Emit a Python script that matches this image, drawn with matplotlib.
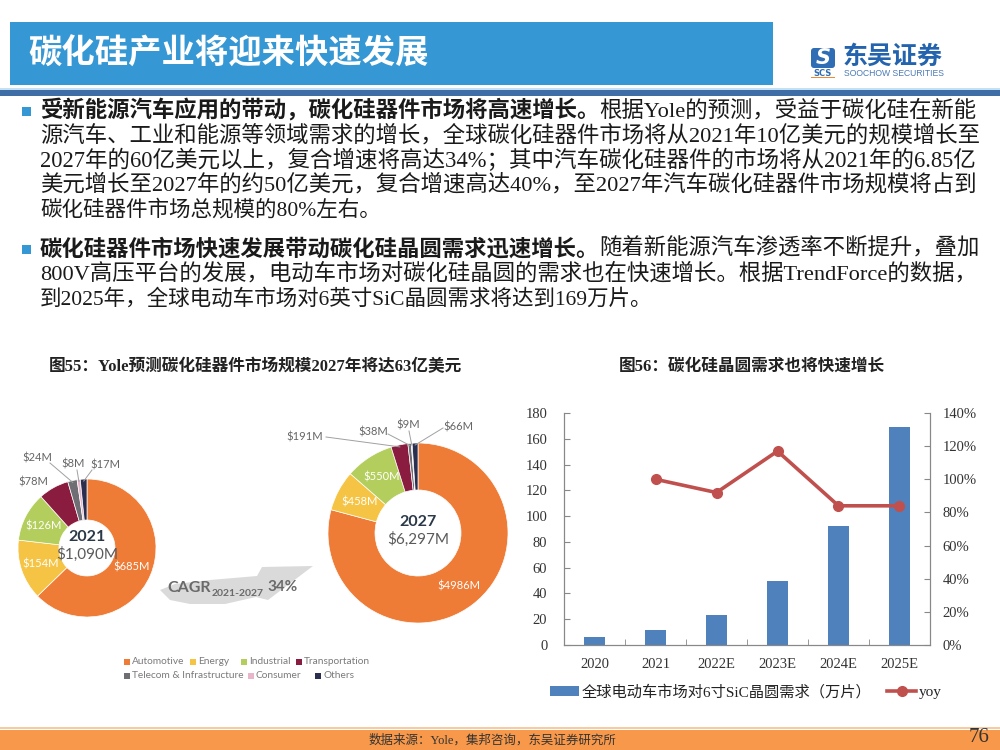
import numpy as np
import matplotlib
matplotlib.use('Agg')
import matplotlib.pyplot as plt
from matplotlib.patches import Rectangle, Polygon, FancyBboxPatch
from matplotlib.lines import Line2D

# ---------------- data ----------------
years = ['2020', '2021', '2022E', '2023E', '2024E', '2025E']
wafer_demand = [6, 12, 23, 50, 92, 169]            # 万片
yoy_pct = [np.nan, 100, 92, 117, 84, 84]            # %
bar_ticks = [0, 20, 40, 60, 80, 100, 120, 140, 160, 180]
yoy_ticks = [0, 20, 40, 60, 80, 100, 120, 140]

segments = ['Automotive', 'Energy', 'Industrial', 'Transportation',
            'Telecom & Infrastructure', 'Consumer', 'Others']
market_2021 = [685, 154, 126, 78, 24, 8, 17]       # $M
market_2027 = [4986, 458, 550, 191, 38, 9, 66]     # $M
total_2021 = '$1,090M'
total_2027 = '$6,297M'
cagr_value = '34%'

SEG_COLORS = ['#EE7B36', '#F6C445', '#B3CE5C', '#8A1C3F',
              '#6F6E74', '#E8B5CA', '#2A2E4F']

CJK = 'Noto Sans CJK SC'
MIX = ['Liberation Serif', CJK]
HUM = ['Lato', 'DejaVu Sans']
plt.rcParams['font.family'] = MIX

fig = plt.figure(figsize=(10, 7.5), dpi=100)
fig.patch.set_facecolor('white')
ax = fig.add_axes([0, 0, 1, 1])
ax.set_xlim(0, 1000)
ax.set_ylim(0, 750)
ax.axis('off')


def px(y):
    return 750 - y


# ---------------- header ----------------
ax.add_patch(Rectangle((10, px(85)), 763, 63, color='#3597D3', lw=0))
ax.text(28, px(54), '碳化硅产业将迎来快速发展', color='white', fontsize=24,
        fontweight='bold', family=[CJK], va='center', ha='left')
ax.add_patch(Rectangle((0, px(90)), 1000, 2.5, color='#C4E0F3', lw=0))
ax.add_patch(Rectangle((0, px(96)), 1000, 6, color='#3F6EA7', lw=0))

# logo
ax.add_patch(FancyBboxPatch((811, px(68)), 24, 20, boxstyle='round,pad=0,rounding_size=3',
                            color='#2F6DB5', lw=0))
ax.text(823, px(58), 'S', color='white', fontsize=15, fontweight='bold',
        fontstyle='italic', family=['DejaVu Sans'], ha='center', va='center')
ax.text(823, px(73), 'SCS', color='#2F6DB5', fontsize=6, fontweight='bold',
        family=['DejaVu Sans'], ha='center', va='center')
ax.add_patch(Rectangle((811, px(78)), 24, 1.5, color='#F08A30', lw=0))
ax.text(843, px(57), '东吴证券', color='#2464AE', fontsize=18, fontweight='bold',
        family=[CJK], ha='left', va='center')
ax.text(844, px(73.5), 'SOOCHOW SECURITIES', color='#4C79B6', fontsize=6.2,
        family=['Liberation Sans'], ha='left', va='center')

# ---------------- body text ----------------
BODY_FS = 15.5
TXT = '#1A1A1A'
body = [
    (110, True, True, [('受新能源汽车应用的带动，碳化硅器件市场将高速增长。', 'bold'),
                       ('根据Yole的预测，受益于碳化硅在新能', 'normal')]),
    (135, False, True, [('源汽车、工业和能源等领域需求的增长，全球碳化硅器件市场将从2021年10亿美元的规模增长至', 'normal')]),
    (160, False, True, [('2027年的60亿美元以上，复合增速将高达34%；其中汽车碳化硅器件的市场将从2021年的6.85亿', 'normal')]),
    (184, False, True, [('美元增长至2027年的约50亿美元，复合增速高达40%，至2027年汽车碳化硅器件市场规模将占到', 'normal')]),
    (209, False, False, [('碳化硅器件市场总规模的80%左右。', 'normal')]),
    (248, True, True, [('碳化硅器件市场快速发展带动碳化硅晶圆需求迅速增长。', 'bold'),
                       ('随着新能源汽车渗透率不断提升，叠加', 'normal')]),
    (273, False, True, [('800V高压平台的发展，电动车市场对碳化硅晶圆的需求也在快速增长。根据TrendForce的数据，', 'normal')]),
    (298, False, False, [('到2025年，全球电动车市场对6英寸SiC晶圆需求将达到169万片。', 'normal')]),
]

X0 = 40
line_artists = []
for yc, bullet, justify, parts in body:
    if bullet:
        ax.add_patch(Rectangle((22, px(yc + 6)), 9, 9, color='#3597D3', lw=0))
    yb = px(yc + 7)
    prev = None
    arts = []
    for txt, wt in parts:
        if prev is None:
            t = ax.text(X0, yb, txt, fontsize=BODY_FS, fontweight=wt, family=MIX,
                        va='baseline', ha='left', color=TXT)
        else:
            t = ax.annotate(txt, xy=(1, yb), xycoords=(prev, 'data'), fontsize=BODY_FS,
                            fontweight=wt, family=MIX, va='baseline', ha='left', color=TXT)
        arts.append(t)
        prev = t
    line_artists.append((justify, arts))

# ---------------- chart titles ----------------
ax.text(255, px(367), '图55：Yole预测碳化硅器件市场规模2027年将达63亿美元', fontsize=12,
        fontweight='bold', family=MIX, ha='center', va='center', color='#222222')
ax.text(752, px(367), '图56：碳化硅晶圆需求也将快速增长', fontsize=12,
        fontweight='bold', family=MIX, ha='center', va='center', color='#222222')

# ---------------- donuts ----------------
def donut(values, cx, cy, r_out, r_in, year_lbl, total_lbl, inner_idx, outer_specs):
    wedges, _ = ax.pie(values, colors=SEG_COLORS, startangle=90, counterclock=False,
                       center=(cx, px(cy)), radius=r_out, frame=False,
                       wedgeprops=dict(width=r_out - r_in, edgecolor='white', linewidth=0.5))
    rm = (r_out + r_in) / 2
    for i in inner_idx:
        w = wedges[i]
        th = np.deg2rad((w.theta1 + w.theta2) / 2)
        ax.text(cx + rm * np.cos(th), px(cy) + rm * np.sin(th), f'${values[i]}M',
                color='white', fontsize=8, family=HUM, ha='center', va='center')
    for i, (lx, ly, sx, sy) in outer_specs.items():
        w = wedges[i]
        th = np.deg2rad((w.theta1 + w.theta2) / 2)
        ax.text(lx, px(ly), f'${values[i]}M', color='#666666', fontsize=8,
                family=HUM, ha='center', va='center')
        if sx is not None:
            ax.plot([sx, cx + (r_out - 2) * np.cos(th)], [px(sy), px(cy) + (r_out - 2) * np.sin(th)],
                    color='#A0A0A0', lw=0.7, zorder=3)
    ax.text(cx, px(cy - 11), year_lbl, fontsize=11.5, fontweight='bold', family=HUM,
            color='#2B3848', ha='center', va='center')
    ax.text(cx, px(cy + 6), total_lbl, fontsize=11, family=HUM,
            color='#5A5A5A', ha='center', va='center')


donut(market_2021, 87, 548, 69, 28, '2021', total_2021, [0, 1, 2],
      {3: (33, 482, None, None), 4: (37, 458, 50, 463),
       5: (73, 464, 77, 470), 6: (105, 465, 92, 470)})
donut(market_2027, 418, 533, 90, 43, '2027', total_2027, [0, 1, 2],
      {3: (305, 437, 326, 437), 4: (373, 432, 388, 434),
       5: (408, 425, 409, 431), 6: (458, 427, 443, 428)})
ax.set_xlim(0, 1000)
ax.set_ylim(0, 750)
ax.set_aspect('auto')
ax.axis('off')

# CAGR arrow
arrow_pts = [(160, 590), (175, 584), (210, 580), (257, 576), (262, 567), (313, 566),
             (268, 600), (256, 597), (225, 604), (190, 604), (170, 600)]
ax.add_patch(Polygon([(x, px(y)) for x, y in arrow_pts], closed=True,
                     facecolor='#DADADA', edgecolor='none', zorder=1))
ax.text(167, px(588), 'CAGR', fontsize=11.5, fontweight='bold', family=HUM,
        color='#6A6A6A', ha='left', va='center', zorder=2)
ax.text(212, px(594), '2021-2027', fontsize=7.5, fontweight='bold', family=HUM,
        color='#6A6A6A', ha='left', va='center', zorder=2)
ax.text(267, px(587), cagr_value, fontsize=11, fontweight='bold', family=HUM,
        color='#6A6A6A', ha='left', va='center', zorder=2)

# donut legend
leg_items = [(0, 124, 662), (1, 190, 662), (2, 241, 662), (3, 296, 662),
             (4, 124, 676), (5, 248, 676), (6, 315, 676)]
for i, lx, ly in leg_items:
    ax.add_patch(Rectangle((lx, px(ly + 3)), 6, 6, color=SEG_COLORS[i], lw=0))
    ax.text(lx + 8, px(ly), segments[i], fontsize=7.3, family=HUM, color='#7A7A7A',
            ha='left', va='center')

# ---------------- bar + line chart ----------------
SP = '#888888'
bax = fig.add_axes([0.564, 1 - 645 / 750, 0.366, 232 / 750])
xpos = np.arange(len(years))
bars = bax.bar(xpos, wafer_demand, width=0.33, color='#4F81BD', zorder=2)
bax.set_xlim(-0.5, len(years) - 0.5)
bax.set_ylim(0, 180)
bax.set_yticks(bar_ticks)
bax.set_xticks(xpos)
bax.set_xticklabels(years)
bax.set_xticks(np.arange(0.5, len(years) - 0.5, 1), minor=True)
bax.tick_params(axis='x', which='major', length=0, pad=9, labelsize=10.5, labelcolor='#333333')
bax.tick_params(axis='x', which='minor', direction='in', length=4, color=SP)
bax.tick_params(axis='y', direction='in', length=4, pad=12, labelsize=10.5,
                color=SP, labelcolor='#333333')
bax.spines['top'].set_visible(False)
for s in ['left', 'bottom', 'right']:
    bax.spines[s].set_color(SP)
bax.patch.set_alpha(0)

bax2 = bax.twinx()
line, = bax2.plot(xpos, yoy_pct, color='#C0504D', lw=2.6, marker='o', ms=7, zorder=3)
bax2.set_ylim(0, 140)
bax2.set_yticks(yoy_ticks)
bax2.set_yticklabels([f'{v}%' for v in yoy_ticks])
bax2.tick_params(axis='y', direction='in', length=4, pad=9, labelsize=10.5,
                 color=SP, labelcolor='#333333')
bax2.spines['top'].set_visible(False)
for s in ['left', 'bottom', 'right']:
    bax2.spines[s].set_color(SP)

fig.legend([bars, line], ['全球电动车市场对6寸SiC晶圆需求（万片）', 'yoy'],
           loc='center', bbox_to_anchor=(0.746, 1 - 692 / 750), ncol=2, frameon=False,
           prop={'family': MIX, 'size': 11}, handlelength=1.9, handleheight=0.55,
           handletextpad=0.2, columnspacing=1.0, labelcolor='#222222')

# ---------------- footer ----------------
ax.add_patch(Rectangle((0, px(729)), 1000, 2.5, color='#F9C9A0', lw=0))
ax.add_patch(Rectangle((0, 0), 1000, px(729.5), color='#F7984A', lw=0))
ax.text(492, px(740), '数据来源：Yole，集邦咨询，东吴证券研究所', fontsize=9, family=MIX,
        color='#333333', ha='center', va='center')
ax.text(990, px(738), '76', fontsize=15, family=['Liberation Serif'], color='#333333',
        ha='right', va='center')

# ---------------- justify body lines ----------------
fig.canvas.draw()
renderer = fig.canvas.get_renderer()
for justify, arts in line_artists:
    if not justify:
        continue
    right = arts[-1].get_window_extent(renderer).x1
    factor = (977 - X0) / (right - X0)
    factor = min(max(factor, 0.85), 1.15)
    for a in arts:
        a.set_fontsize(BODY_FS * factor)

fig.savefig('out.png', dpi=100, facecolor='white')
